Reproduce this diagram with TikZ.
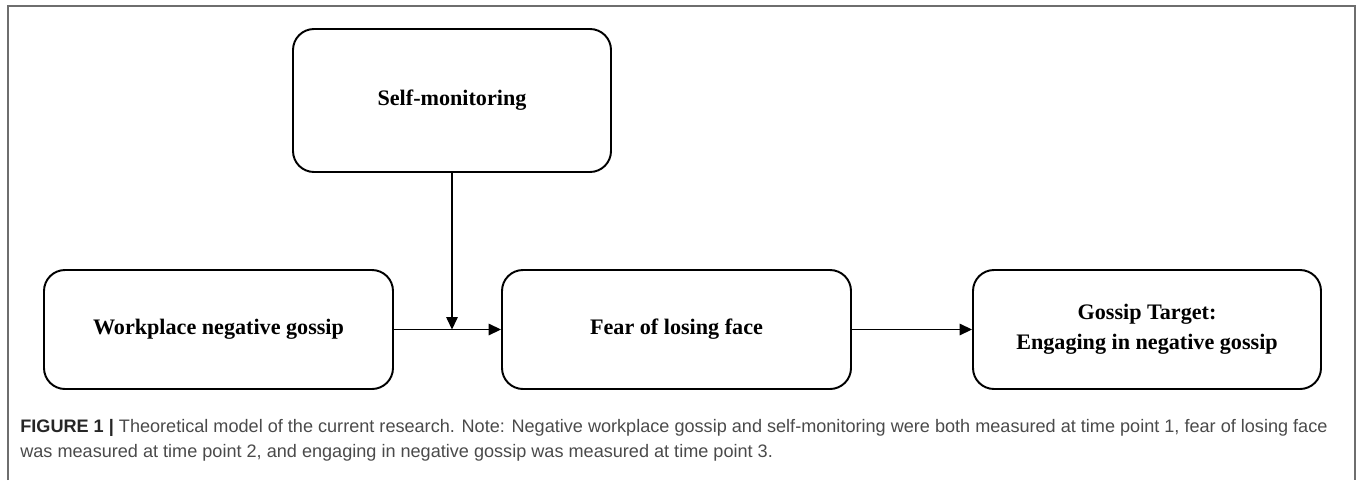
\documentclass[tikz,border=0pt]{standalone}
\usepackage{fontspec}
\setmainfont{Liberation Serif}
\newfontfamily\capfont{Liberation Sans}
\usetikzlibrary{arrows.meta}
\definecolor{capgray}{HTML}{4A4A4A}
\definecolor{framegray}{HTML}{6E6E6E}
\begin{document}
\begin{tikzpicture}[
    varbox/.style={draw, line width=1.1pt, rounded corners=0.42cm,
      minimum width=6.98cm, minimum height=2.38cm, align=center,
      font=\fontsize{12.6}{17}\selectfont\bfseries},
    link/.style={line width=0.7pt, -{Triangle[length=7pt, width=6.5pt]}},
    captext/.style={anchor=base west, inner sep=0pt, text=capgray,
      font=\capfont\fontsize{10.3}{12}\selectfont}
  ]
  \useasboundingbox (0, 0) rectangle (27.16, 9.6);

  % outer frame, open at the bottom
  \draw[framegray, line width=1.1pt] (0.16, 0) -- (0.16, 9.48) -- (27.1, 9.48) -- (27.1, 0);

  \node[varbox, minimum width=6.36cm, minimum height=2.86cm] (selfmon) at (9.04, 7.59) {Self-monitoring};
  \node[varbox] (gossip) at (4.37, 3.01) {Workplace negative gossip};
  \node[varbox] (face) at (13.53, 3.01) {Fear of losing face};
  \node[varbox, minimum width=6.96cm] (target) at (22.94, 3.01) {Gossip Target:\\Engaging in negative gossip};

  \coordinate (joint) at (selfmon.south |- gossip.east);
  \draw[link] (gossip) -- (face);
  \draw[link] (selfmon) -- (joint);
  \draw[link] (face) -- (target);

  \node[captext] (capa) at (0.4, 0.96) {{\bfseries\color{black!85}FIGURE 1 |} Theoretical model of the current research. Note: Negative workplace gossip and self-monitoring were both measured at time point 1, fear of losing face};
  \node[captext] (capb) at (0.4, 0.45) {was measured at time point 2, and engaging in negative gossip was measured at time point 3.};
\end{tikzpicture}
\end{document}
